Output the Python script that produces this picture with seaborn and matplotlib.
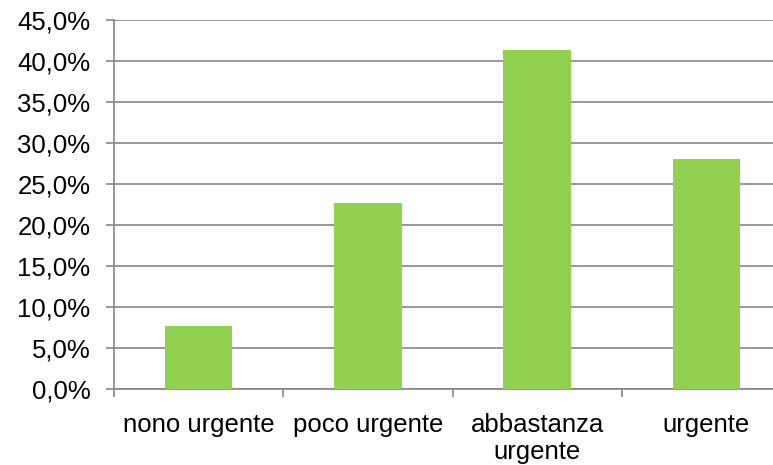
import matplotlib
matplotlib.use("Agg")
import matplotlib.pyplot as plt
import numpy as np
import pandas as pd
import seaborn as sns
from matplotlib.ticker import FuncFormatter, FixedLocator

# dati
categorie = ["nono urgente", "poco urgente", "abbastanza\nurgente", "urgente"]
valori = [0.077, 0.227, 0.414, 0.280]

df = pd.DataFrame({"categoria": categorie, "valore": valori})

sns.set_style("white")
plt.rcParams["font.family"] = ["Liberation Sans", "DejaVu Sans"]

grigio = "#868686"

fig = plt.figure(figsize=(7.73, 4.65), dpi=100)
ax = fig.add_axes([114 / 773, 76 / 465, 677 / 773, 369 / 465])

sns.barplot(data=df, x="categoria", y="valore", color="#92D050",
            width=0.4, saturation=1, linewidth=0, ax=ax, zorder=3)

ax.set_ylim(0, 0.45)
ax.set_xlim(-0.5, 3.5)
ax.yaxis.set_major_locator(FixedLocator(np.arange(0, 0.451, 0.05)))
ax.yaxis.set_major_formatter(FuncFormatter(lambda v, p: f"{v*100:.1f}%".replace(".", ",")))
ax.grid(axis="y", color=grigio, linewidth=1.2, zorder=0)
ax.set_axisbelow(True)

ax.set_xlabel("")
ax.set_ylabel("")

for s in ["top", "right"]:
    ax.spines[s].set_visible(False)
for s in ["left", "bottom"]:
    ax.spines[s].set_color(grigio)
    ax.spines[s].set_linewidth(1.2)

ax.tick_params(axis="y", which="major", length=6, width=1.2, color=grigio,
               pad=11, labelsize=18.5, labelcolor="black", left=True)
ax.tick_params(axis="x", which="major", length=0, pad=17.5, labelsize=18.5,
               labelcolor="black")
ax.xaxis.set_minor_locator(FixedLocator([-0.5, 0.5, 1.5, 2.5, 3.5]))
ax.tick_params(axis="x", which="minor", length=6, width=1.2, color=grigio,
               bottom=True)

for lab in ax.get_xticklabels():
    lab.set_multialignment("center")
    lab.set_linespacing(1.12)

fig.savefig("out.png", dpi=100)
